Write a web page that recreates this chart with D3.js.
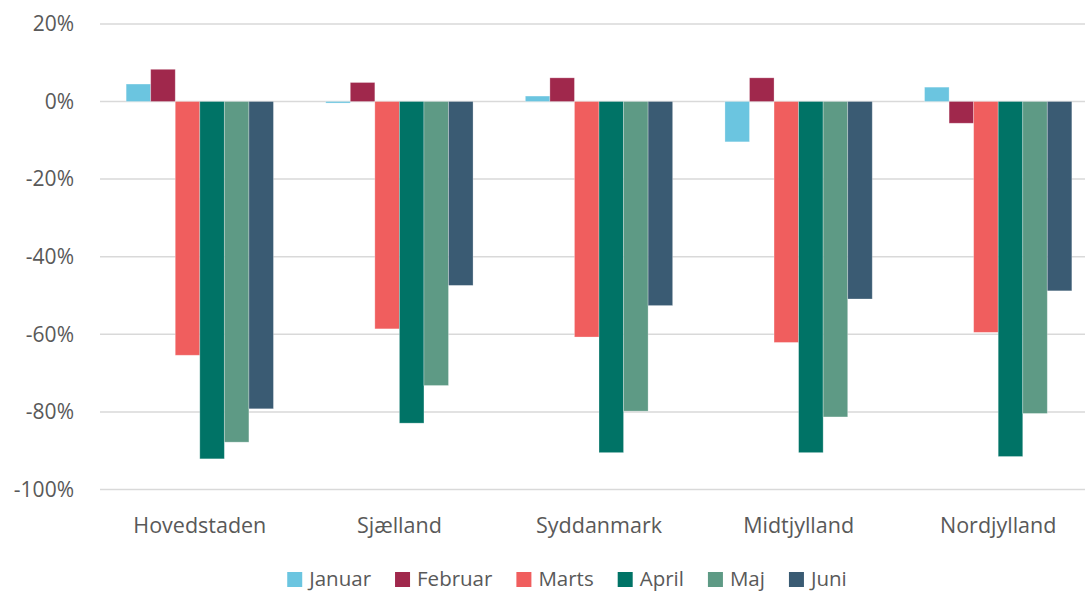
<!DOCTYPE html>
<html>
<head>
<meta charset="utf-8">
<script src="https://cdn.jsdelivr.net/npm/d3@7"></script>
<style>
  html, body { margin: 0; padding: 0; background: #fff; }
  svg { display: block; font-family: "Open Sans", "Noto Sans", sans-serif; }
</style>
</head>
<body>
<svg id="chart" width="1085" height="592"></svg>
<script>
const regions = ["Hovedstaden", "Sjælland", "Syddanmark", "Midtjylland", "Nordjylland"];
const months = ["Januar", "Februar", "Marts", "April", "Maj", "Juni"];
const januar  = [4.5, -0.4, 1.4, -10.4, 3.7];
const februar = [8.3, 4.9, 6.1, 6.1, -5.6];
const marts   = [-65.4, -58.6, -60.7, -62.1, -59.5];
const april   = [-92.1, -82.9, -90.5, -90.5, -91.5];
const maj     = [-87.8, -73.2, -79.8, -81.3, -80.4];
const juni    = [-79.2, -47.4, -52.6, -50.9, -48.8];
const yTicks  = [20, 0, -20, -40, -60, -80, -100];
const colors  = ["#6BC5E0", "#A0284C", "#F05E5E", "#007366", "#5E9A85", "#3A5B73"];

const series = [januar, februar, marts, april, maj, juni];
const svg = d3.select("#chart");
const textColor = "#595959";

const x0 = d3.scaleBand().domain(regions).range([100, 1098]).paddingInner(0.262).paddingOuter(0.131);
const x1 = d3.scaleBand().domain(months).range([0, x0.bandwidth()]);
const y = d3.scaleLinear().domain([-100, 20]).range([489.5, 23.9]);

// gridlines
svg.append("g").selectAll("line").data(yTicks).join("line")
  .attr("x1", 100).attr("x2", 1085)
  .attr("y1", d => y(d)).attr("y2", d => y(d))
  .attr("stroke", "#d9d9d9").attr("stroke-width", 1.5);

// y labels
svg.append("g").selectAll("text").data(yTicks).join("text")
  .attr("x", 74).attr("y", d => y(d)).attr("dy", "0.35em")
  .attr("text-anchor", "end").attr("fill", textColor)
  .attr("font-size", 21)
  .text(d => d + "%");

// bars
const g = svg.append("g");
regions.forEach((r, ri) => {
  months.forEach((m, mi) => {
    const v = series[mi][ri];
    g.append("rect")
      .attr("x", x0(r) + x1(m))
      .attr("width", x1.bandwidth())
      .attr("y", y(Math.max(0, v)))
      .attr("height", Math.abs(y(v) - y(0)))
      .attr("fill", colors[mi])
      .attr("stroke", "rgba(255,255,255,0.35)")
      .attr("stroke-width", 0.8);
  });
});

// x labels
svg.append("g").selectAll("text").data(regions).join("text")
  .attr("x", d => x0(d) + x0.bandwidth() / 2).attr("y", 525).attr("dy", "0.35em")
  .attr("text-anchor", "middle").attr("fill", textColor)
  .attr("font-size", 21.5)
  .text(d => d);

// legend
const legend = svg.append("g");
let lx = 0;
months.forEach((m, i) => {
  const item = legend.append("g").attr("transform", `translate(${lx},0)`);
  item.append("rect").attr("x", 0).attr("y", 572).attr("width", 15).attr("height", 15).attr("fill", colors[i]);
  const t = item.append("text").attr("x", 22).attr("y", 578.5).attr("dy", "0.35em")
    .attr("fill", textColor).attr("font-size", 20.5).text(m);
  const w = t.node().getComputedTextLength();
  lx += 22 + w + (i < months.length - 1 ? 24 : 0);
});
legend.attr("transform", `translate(${567 - lx / 2},0)`);
</script>
</body>
</html>
